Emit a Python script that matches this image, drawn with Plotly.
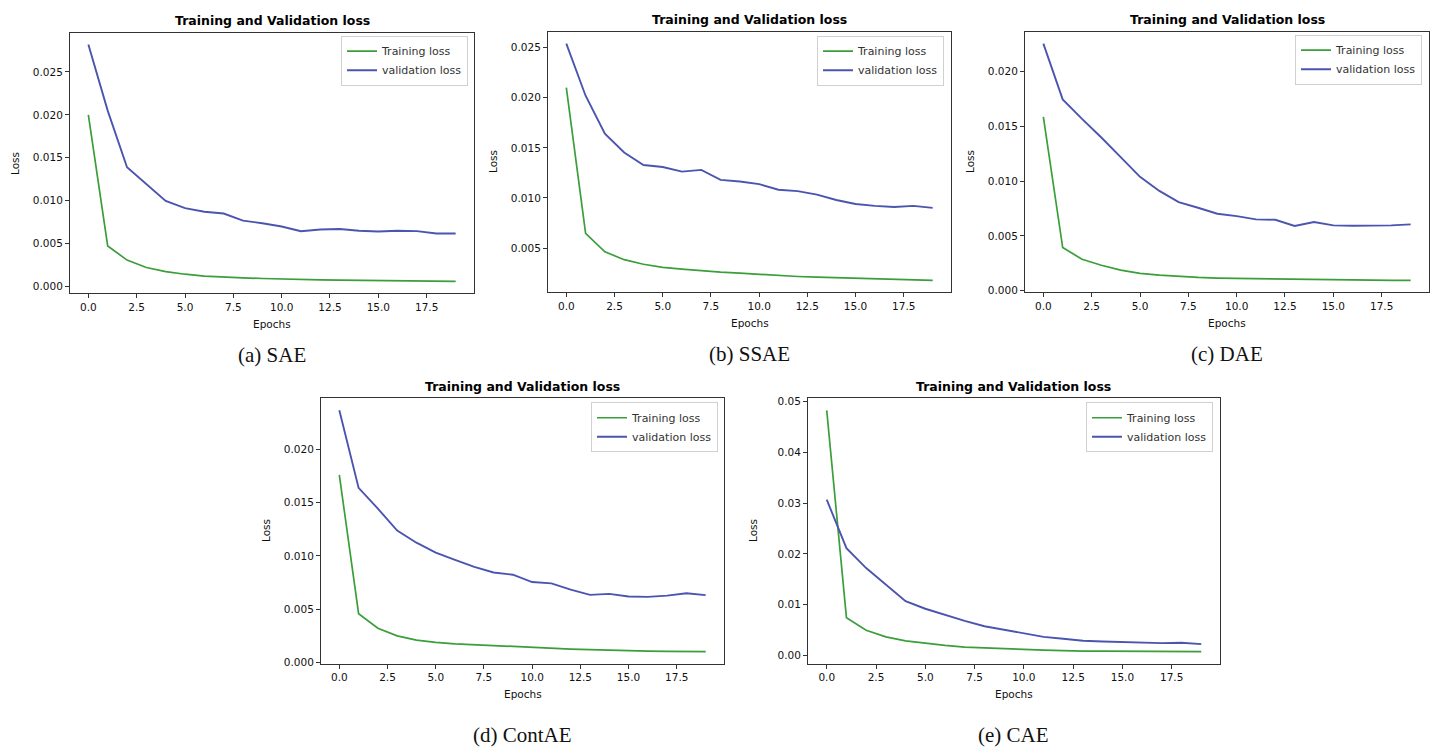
import plotly.graph_objects as go

W, H = 1439, 749

epochs = list(range(20))

sae_train = [0.0200, 0.00472, 0.00307, 0.0022, 0.00173, 0.00142, 0.0012, 0.00107, 0.0010, 0.00092,
             0.00085, 0.0008, 0.00077, 0.00074, 0.00071, 0.00068, 0.00066, 0.00063, 0.00060, 0.00058]
sae_val = [0.0282, 0.0205, 0.0139, 0.0119, 0.00997, 0.00913, 0.0087, 0.0085, 0.00767, 0.00736,
           0.00698, 0.00644, 0.00663, 0.0067, 0.00648, 0.0064, 0.00648, 0.00644, 0.00617, 0.00617]

ssae_train = [0.0210, 0.00648, 0.00464, 0.00385, 0.00339, 0.00309, 0.0029, 0.00273, 0.0026, 0.0025,
              0.00237, 0.00227, 0.00217, 0.0021, 0.00204, 0.00197, 0.00191, 0.00188, 0.00184, 0.00178]
ssae_val = [0.0254, 0.0202, 0.01641, 0.01454, 0.01329, 0.01309, 0.01263, 0.0128, 0.01181, 0.01164,
            0.01138, 0.01082, 0.01069, 0.01033, 0.0098, 0.0094, 0.00921, 0.00911, 0.00921, 0.00901]

dae_train = [0.01588, 0.00394, 0.00288, 0.00233, 0.00188, 0.00158, 0.00142, 0.0013, 0.00121, 0.00115,
             0.00112, 0.00109, 0.00106, 0.00104, 0.00102, 0.001, 0.00098, 0.00097, 0.00095, 0.00094]
dae_val = [0.02258, 0.01748, 0.0157, 0.0140, 0.0122, 0.0104, 0.00912, 0.00809, 0.00758, 0.00703,
           0.00682, 0.00652, 0.00648, 0.00591, 0.00627, 0.00597, 0.00594, 0.00594, 0.00597, 0.00606]

contae_train = [0.01759, 0.00458, 0.00322, 0.00251, 0.00211, 0.00189, 0.00176, 0.00167, 0.00158, 0.00152,
                0.00146, 0.00136, 0.00127, 0.00121, 0.00115, 0.00111, 0.00108, 0.00105, 0.00104, 0.00102]
contae_val = [0.02365, 0.01638, 0.01443, 0.01238, 0.01124, 0.01031, 0.00963, 0.00898, 0.00845, 0.00824,
              0.00755, 0.00743, 0.00684, 0.00635, 0.00644, 0.00619, 0.00616, 0.00628, 0.0065, 0.00632]

cae_train = [0.0483, 0.00743, 0.00495, 0.00365, 0.00287, 0.00235, 0.00196, 0.00163, 0.00143, 0.0013,
             0.00117, 0.00104, 0.00091, 0.00085, 0.00082, 0.0008, 0.00078, 0.00076, 0.00074, 0.00072]
cae_val = [0.0307, 0.02112, 0.01721, 0.01395, 0.01069, 0.00919, 0.00795, 0.00678, 0.00574, 0.00508,
           0.0043, 0.00365, 0.00326, 0.00287, 0.00274, 0.00261, 0.00254, 0.00241, 0.00248, 0.00222]

captions = ["(a) SAE", "(b) SSAE", "(c) DAE", "(d) ContAE", "(e) CAE"]
panel_title = "Training and Validation loss"
x_ticks = [0, 2.5, 5, 7.5, 10, 12.5, 15, 17.5]
y_ticks = [
    [0.0, 0.005, 0.010, 0.015, 0.020, 0.025],
    [0.005, 0.010, 0.015, 0.020, 0.025],
    [0.0, 0.005, 0.010, 0.015, 0.020],
    [0.0, 0.005, 0.010, 0.015, 0.020],
    [0.00, 0.01, 0.02, 0.03, 0.04, 0.05],
]
y_fmt = [".3f", ".3f", ".3f", ".3f", ".2f"]

series = [(sae_train, sae_val), (ssae_train, ssae_val), (dae_train, dae_val),
          (contae_train, contae_val), (cae_train, cae_val)]

# pixel boxes: left, right, top, bottom
boxes = [(70, 474, 30, 293), (548, 951, 29, 292), (1025, 1429, 29, 292),
         (321, 724, 399, 667), (808, 1220, 399, 667)]
legend_anchor = [(468, 33), (944, 33), (1422, 32), (718, 403), (1213, 403)]
caption_offset = [62, 62, 62, 68 + 4, 68 + 4]

GREEN = "#3a9e3a"
BLUE = "#4b55b0"
FONT = "DejaVu Sans"

fig = go.Figure()
annotations = []

for i, ((tr, va), (l, r, t, b)) in enumerate(zip(series, boxes)):
    n = i + 1
    xa = "x" if n == 1 else f"x{n}"
    ya = "y" if n == 1 else f"y{n}"
    lg = "legend" if n == 1 else f"legend{n}"
    fig.add_trace(go.Scatter(x=epochs, y=tr, mode="lines", name="Training loss",
                             line=dict(color=GREEN, width=1.7), xaxis=xa, yaxis=ya, legend=lg))
    fig.add_trace(go.Scatter(x=epochs, y=va, mode="lines", name="validation loss",
                             line=dict(color=BLUE, width=1.9), xaxis=xa, yaxis=ya, legend=lg))
    lo = min(min(tr), min(va))
    hi = max(max(tr), max(va))
    m = (hi - lo) * 0.05
    xm = (max(epochs) - min(epochs)) * 0.05
    axkw = dict(showline=True, mirror=True, linecolor="#333", linewidth=1, ticks="outside",
                ticklen=4, tickcolor="#333", showgrid=False, zeroline=False,
                tickfont=dict(family=FONT, size=10.5, color="#111"))
    fig.layout[f"xaxis{'' if n == 1 else n}"] = dict(
        domain=[l / W, r / W], anchor=ya, range=[min(epochs) - xm, max(epochs) + xm],
        tickvals=x_ticks, tickformat=".1f", **axkw)
    fig.layout[f"yaxis{'' if n == 1 else n}"] = dict(
        domain=[1 - b / H, 1 - t / H], anchor=xa, range=[lo - m, hi + m],
        tickvals=y_ticks[i], tickformat=y_fmt[i], **axkw)
    lx, ly = legend_anchor[i]
    fig.layout[lg] = dict(x=lx / W, y=1 - ly / H, xanchor="right", yanchor="top",
                          xref="paper", yref="paper", bgcolor="rgba(255,255,255,0.9)",
                          bordercolor="#d0d0d0", borderwidth=1,
                          font=dict(family=FONT, size=11, color="#333"),
                          tracegroupgap=0, itemwidth=30)
    cx = (l + r) / 2
    cy = (t + b) / 2
    annotations.append(dict(text=panel_title, x=cx / W, y=1 - (t - 12) / H, xref="paper", yref="paper",
                            showarrow=False, xanchor="center", yanchor="middle",
                            font=dict(family=FONT, size=12.5, color="#000", weight="bold")))
    annotations.append(dict(text="Epochs", x=cx / W, y=1 - (b + 31) / H, xref="paper", yref="paper",
                            showarrow=False, xanchor="center", yanchor="middle",
                            font=dict(family=FONT, size=10.5, color="#111")))
    annotations.append(dict(text="Loss", x=(l - 55) / W, y=1 - cy / H, xref="paper", yref="paper",
                            showarrow=False, xanchor="center", yanchor="middle", textangle=-90,
                            font=dict(family=FONT, size=10.5, color="#111")))
    annotations.append(dict(text=captions[i], x=cx / W, y=1 - (b + caption_offset[i]) / H,
                            xref="paper", yref="paper", showarrow=False, xanchor="center", yanchor="middle",
                            font=dict(family="Liberation Serif", size=21, color="#111")))

fig.update_layout(width=W, height=H, margin=dict(l=0, r=0, t=0, b=0),
                  paper_bgcolor="white", plot_bgcolor="white",
                  annotations=annotations, showlegend=True)

fig.write_html("out.html")
